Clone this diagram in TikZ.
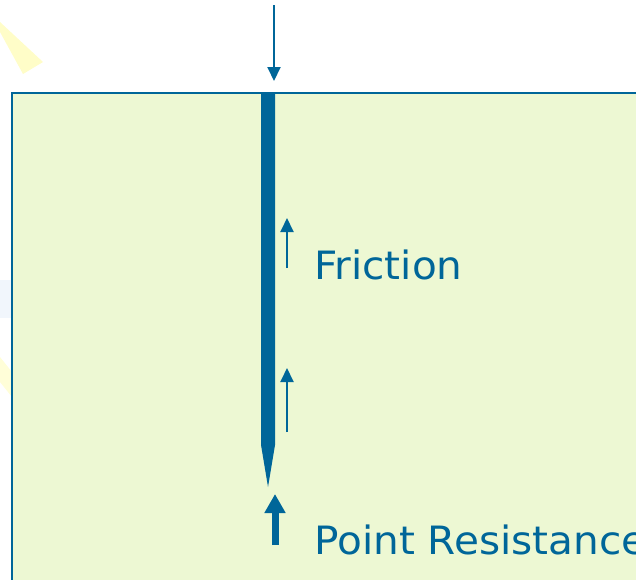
\documentclass[tikz,border=0pt]{standalone}
\usepackage{fontspec}
\setmainfont{DejaVu Sans}
\usetikzlibrary{arrows.meta}

\definecolor{pileblue}{HTML}{006699}
\definecolor{soil}{HTML}{EDF8D3}
\definecolor{glow}{HTML}{FFFDC8}
\definecolor{haze}{HTML}{F1F6FC}

\begin{document}
\begin{tikzpicture}[x=1pt, y=-1pt]
  \tikzstyle{force}=[draw=pileblue, line width=2pt, -{Triangle[length=14pt, width=13pt]}]
  \tikzstyle{bigforce}=[draw=pileblue, line width=7pt, -{Triangle[length=19pt, width=20pt]}]
  \tikzstyle{lbl}=[anchor=base west, inner sep=0pt, text=pileblue, font=\fontsize{39}{46}\selectfont]

  \clip (0,0) rectangle (636,579);

  % background glints
  \fill[glow] (0,22) -- (43,62) -- (23,74) -- (0,32) -- cycle;
  \fill[glow!70] (0,357) -- (12,372) -- (12,397) -- (0,382) -- cycle;
  \fill[haze] (0,280) rectangle (11,318);

  % soil
  \draw[pileblue, line width=2.5pt, fill=soil] (12,93) rectangle (650,600);

  % pile
  \coordinate (head) at (268,93);
  \coordinate (tip) at (268,487);
  \fill[pileblue] (261,93) -- (275,93) -- (275,445) -- (tip) -- (261,445) -- cycle;

  % loads
  \coordinate (load) at (274,5);
  \coordinate (loadend) at (274,81);
  \draw[force] (load) -- (loadend);

  \coordinate (f1a) at (287,268);
  \coordinate (f1b) at (287,218);
  \coordinate (f2a) at (287,432);
  \coordinate (f2b) at (287,368);
  \draw[force] (f1a) -- (f1b);
  \draw[force] (f2a) -- (f2b);

  \coordinate (pa) at (275,545);
  \coordinate (pb) at (275,494);
  \draw[bigforce] (pa) -- (pb);

  \node[lbl, xscale=1.04] (friction) at (314,279) {Friction};
  \node[lbl, xscale=1.04] (point) at (314,554) {Point Resistance};
\end{tikzpicture}
\end{document}
